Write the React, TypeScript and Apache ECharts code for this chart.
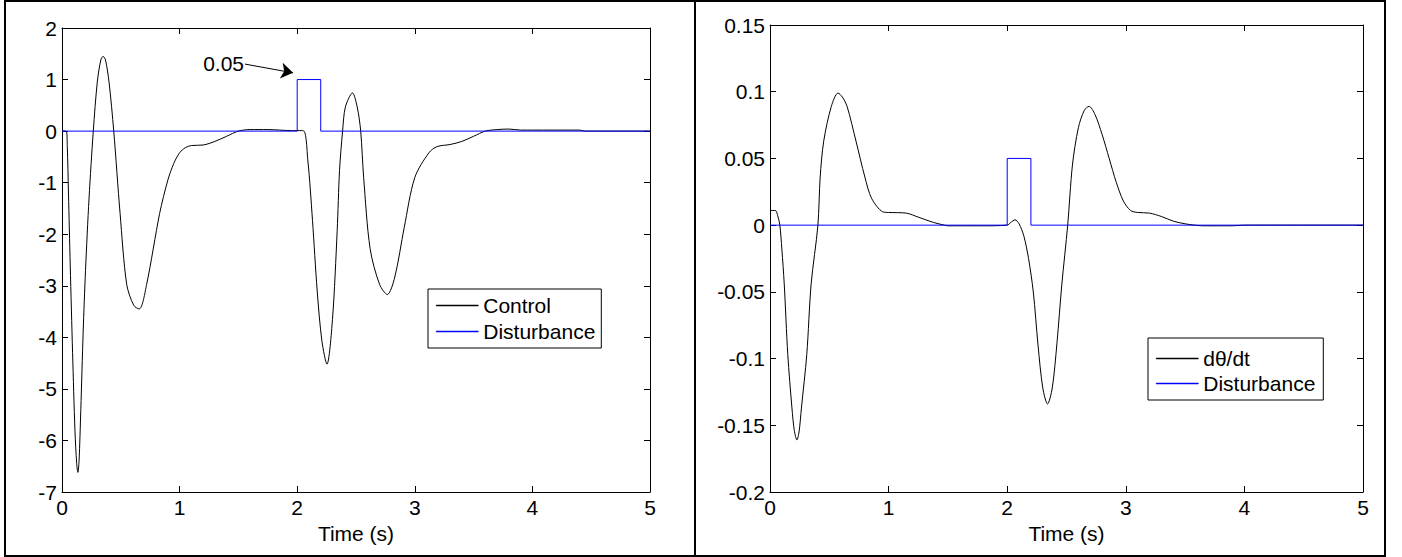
import React, { useEffect, useRef } from "react";
import * as echarts from "echarts";

// ---- Data ----
const controlT = [0, 0.035, 0.045, 0.055, 0.07, 0.09, 0.11, 0.125, 0.135, 0.145, 0.16, 0.18, 0.2, 0.23, 0.266, 0.3, 0.33, 0.35, 0.37, 0.4, 0.44, 0.494, 0.55, 0.61, 0.657, 0.72, 0.83, 0.9, 0.95, 1.0, 1.05, 1.1, 1.2, 1.3, 1.4, 1.5, 1.6, 1.75, 1.85, 1.95, 2.05, 2.09, 2.13, 2.17, 2.21, 2.253, 2.3, 2.34, 2.36, 2.386, 2.41, 2.47, 2.51, 2.54, 2.565, 2.62, 2.7, 2.766, 2.83, 2.91, 3.0, 3.12, 3.19, 3.3, 3.4, 3.5, 3.6, 3.7, 3.8, 3.9, 4.0, 4.4, 4.45, 5.0];
const controlV = [0, 0, -0.3, -1.2, -2.6, -4.3, -5.8, -6.45, -6.62, -6.4, -5.4, -3.9, -2.7, -1.3, 0, 0.95, 1.38, 1.45, 1.38, 0.95, 0, -1.6, -2.97, -3.38, -3.45, -2.97, -1.6, -0.95, -0.63, -0.42, -0.32, -0.28, -0.27, -0.2, -0.1, 0, 0.03, 0.03, 0.02, 0.01, 0.01, -0.56, -1.73, -3.1, -4.07, -4.52, -3.65, -1.93, -0.76, 0, 0.47, 0.74, 0.47, 0, -0.9, -2.28, -2.97, -3.17, -2.83, -1.87, -0.9, -0.42, -0.3, -0.26, -0.2, -0.1, 0, 0.03, 0.04, 0.02, 0.02, 0.02, 0, 0];

const rateT = [0, 0.045, 0.065, 0.083, 0.1, 0.12, 0.15, 0.185, 0.205, 0.227, 0.245, 0.265, 0.31, 0.347, 0.404, 0.423, 0.453, 0.517, 0.574, 0.61, 0.65, 0.725, 0.8, 0.857, 0.95, 1.0, 1.15, 1.25, 1.38, 1.47, 1.5, 1.8, 2.0, 2.03, 2.066, 2.1, 2.14, 2.18, 2.22, 2.26, 2.3, 2.34, 2.38, 2.42, 2.46, 2.51, 2.55, 2.6, 2.65, 2.69, 2.74, 2.8, 2.86, 2.92, 2.98, 3.04, 3.1, 3.2, 3.3, 3.4, 3.5, 3.58, 3.65, 3.9, 4.0, 5.0];
const rateV = [0.011, 0.011, 0.007, 0, -0.018, -0.044, -0.097, -0.137, -0.154, -0.161, -0.155, -0.137, -0.097, -0.044, 0, 0.036, 0.063, 0.089, 0.099, 0.096, 0.089, 0.063, 0.036, 0.02, 0.01, 0.0095, 0.009, 0.006, 0.002, 0, -0.0005, -0.0005, 0, 0.002, 0.004, 0.001, -0.008, -0.025, -0.05, -0.09, -0.122, -0.134, -0.122, -0.088, -0.045, 0, 0.045, 0.073, 0.086, 0.089, 0.083, 0.068, 0.05, 0.032, 0.018, 0.011, 0.0095, 0.009, 0.0065, 0.003, 0.001, 0, -0.0005, -0.0005, 0, 0];

const distT = [0, 2, 2, 2.2, 2.2, 5];
const distLeftV = [0, 0, 1, 1, 0, 0];
const distRightV = [0, 0, 0.05, 0.05, 0, 0];

const xTicksMin = 0, xTicksMax = 5, xInterval = 1;
const leftY = { min: -7, max: 2, interval: 1 };
const rightY = { min: -0.2, max: 0.15, interval: 0.05 };

const annotationText = "0.05";
const annotationFrom = [1.556, 1.3];
const annotationTo = [1.965, 1.13];

const BLACK = "#000000";
const BLUE = "#0000ff";

const zip = (t: number[], v: number[]) => t.map((x, i) => [x, v[i]]);

const FONT = "'Liberation Sans', Arial, sans-serif";
const FS = 21;
const LINE_ICON = "path://M0,0 L42,0 L42,1 L0,1 Z";

const legendItem = (name: string, color: string) => ({
  name,
  icon: LINE_ICON,
  itemStyle: { color, borderColor: color, borderWidth: 0.5 },
  lineStyle: { color, width: 1 },
});

function axisPair(gridIndex: number) {
  const common = {
    gridIndex,
    type: "value" as const,
    min: xTicksMin,
    max: xTicksMax,
    interval: xInterval,
    splitLine: { show: false },
    axisLine: { show: true, onZero: false, lineStyle: { color: BLACK, width: 1 } },
    axisTick: { show: true, inside: true, length: 6, lineStyle: { color: BLACK } },
  };
  return [
    {
      ...common,
      position: "bottom",
      name: "Time (s)",
      nameLocation: "middle",
      nameGap: 27,
      nameTextStyle: { color: BLACK, fontSize: FS, fontFamily: FONT },
      axisLabel: { color: BLACK, fontSize: FS, fontFamily: FONT, margin: 5 },
    },
    { ...common, position: "top", axisLabel: { show: false } },
  ];
}

function yPair(gridIndex: number, r: { min: number; max: number; interval: number }) {
  const common = {
    gridIndex,
    type: "value" as const,
    min: r.min,
    max: r.max,
    interval: r.interval,
    splitLine: { show: false },
    axisLine: { show: true, onZero: false, lineStyle: { color: BLACK, width: 1 } },
    axisTick: { show: true, inside: true, length: 6, lineStyle: { color: BLACK } },
  };
  return [
    { ...common, position: "left", axisLabel: { color: BLACK, fontSize: FS, fontFamily: FONT, margin: 5 } },
    { ...common, position: "right", axisLabel: { show: false } },
  ];
}

export default function App() {
  const ref = useRef<HTMLDivElement>(null);
  useEffect(() => {
    document.body.style.margin = "0";
    if (!ref.current) return;
    const chart = echarts.init(ref.current, undefined, { renderer: "svg" });
    const legendCommon = {
      orient: "vertical" as const,
      backgroundColor: "#fff",
      borderColor: BLACK,
      borderWidth: 1,
      borderRadius: 0,
      itemWidth: 42,
      itemHeight: 18,
      symbolKeepAspect: true,
      textStyle: { color: BLACK, fontSize: FS, fontFamily: FONT },
      selectedMode: false,
    };
    chart.setOption({
      animation: false,
      backgroundColor: "#fff",
      grid: [
        { left: 62, top: 28, width: 588, height: 464 },
        { left: 770, top: 25, width: 593, height: 467 },
      ],
      xAxis: [...axisPair(0), ...axisPair(1)],
      yAxis: [...yPair(0, leftY), ...yPair(1, rightY)],
      legend: [
        {
          ...legendCommon,
          data: [legendItem("Control", BLACK), legendItem("Disturbance", BLUE)],
          left: 428,
          top: 289,
          padding: [6, 6, 6, 8],
          itemGap: 5,
        },
        {
          ...legendCommon,
          data: [legendItem("dθ/dt", BLACK), legendItem("Disturbance", BLUE)],
          left: 1148,
          top: 338,
          padding: [10, 8, 6, 8],
          itemGap: 4,
        },
      ],
      series: [
        {
          name: "Control",
          type: "line",
          xAxisIndex: 0,
          yAxisIndex: 0,
          data: zip(controlT, controlV),
          symbol: "none",
          smooth: 0.3,
          color: BLACK,
          itemStyle: { color: BLACK, borderColor: BLACK },
          lineStyle: { color: BLACK, width: 1 },
          z: 3,
        },
        {
          name: "Disturbance",
          type: "line",
          xAxisIndex: 0,
          yAxisIndex: 0,
          data: zip(distT, distLeftV),
          symbol: "none",
          color: BLUE,
          itemStyle: { color: BLUE, borderColor: BLUE },
          lineStyle: { color: BLUE, width: 1 },
          z: 4,
          markLine: {
            silent: true,
            symbol: ["none", "arrow"],
            symbolSize: 12,
            lineStyle: { color: BLACK, width: 1, type: "solid" },
            label: {
              show: true,
              position: "start",
              formatter: annotationText,
              color: BLACK,
              fontSize: FS,
              fontFamily: FONT,
              distance: 1,
            },
            data: [[{ coord: annotationFrom }, { coord: annotationTo }]],
          },
        },
        {
          name: "dθ/dt",
          type: "line",
          xAxisIndex: 2,
          yAxisIndex: 2,
          data: zip(rateT, rateV),
          symbol: "none",
          smooth: 0.3,
          color: BLACK,
          itemStyle: { color: BLACK, borderColor: BLACK },
          lineStyle: { color: BLACK, width: 1 },
          z: 3,
        },
        {
          name: "Disturbance",
          type: "line",
          xAxisIndex: 2,
          yAxisIndex: 2,
          data: zip(distT, distRightV),
          symbol: "none",
          color: BLUE,
          itemStyle: { color: BLUE, borderColor: BLUE },
          lineStyle: { color: BLUE, width: 1 },
          z: 4,
        },
      ],
      graphic: [
        { type: "rect", shape: { x: 5, y: 1, width: 690, height: 555 }, style: { fill: "none", stroke: BLACK, lineWidth: 2 }, silent: true },
        { type: "rect", shape: { x: 695, y: 1, width: 690, height: 555 }, style: { fill: "none", stroke: BLACK, lineWidth: 2 }, silent: true },
      ],
    });
    return () => chart.dispose();
  }, []);
  return <div ref={ref} style={{ width: 1402, height: 557 }} />;
}
